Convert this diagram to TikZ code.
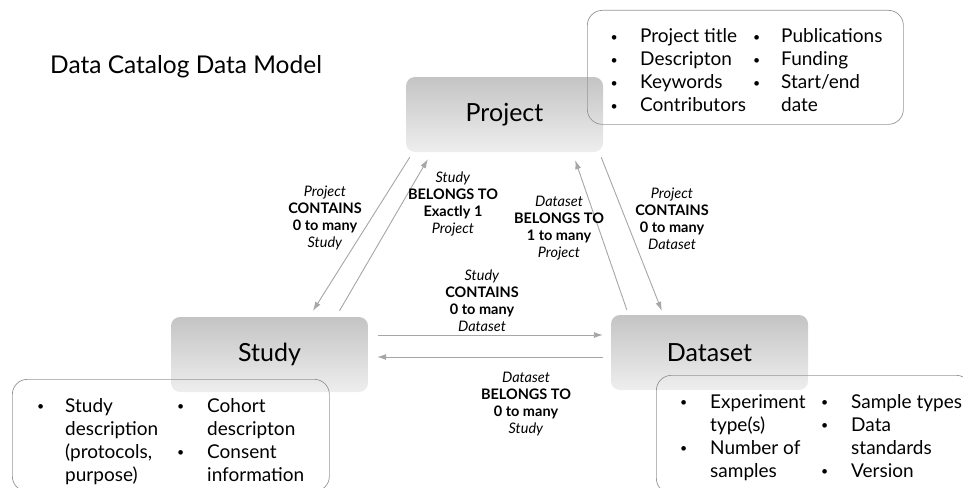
\documentclass[tikz,border=0pt]{standalone}
\usepackage{fontspec}
\setmainfont{Lato}
\usepackage{array}
\usepackage{graphicx}
\usetikzlibrary{arrows.meta}

\definecolor{boxtop}{RGB}{196,196,196}
\definecolor{boxbot}{RGB}{238,238,238}
\definecolor{linkgray}{RGB}{166,166,166}
\definecolor{framegray}{RGB}{150,150,150}

\tikzset{
  entity/.style={rectangle, rounded corners=9pt, top color=boxtop, bottom color=boxbot,
    minimum width=197pt, minimum height=75pt, inner sep=0pt,
    font=\fontsize{25}{30}\selectfont},
  infobox/.style={rectangle, rounded corners=15pt, draw=framegray, line width=0.7pt,
    anchor=north west, inner sep=0pt},
  infolist/.style={anchor=base west, inner sep=0pt, font=\fontsize{19}{23}\selectfont},
  link/.style={draw=linkgray, line width=0.9pt, -{Latex[length=9pt,width=6pt]}},
  rel/.style={align=center, inner sep=0pt, font=\fontsize{14.5}{17}\selectfont}
}

\newcommand{\bl}{\raisebox{0.12ex}{\scalebox{0.65}{\textbullet}}}

\begin{document}
\begin{tikzpicture}[x=1pt,y=-1pt]
\useasboundingbox (0,0) rectangle (963,487);

% title
\node[anchor=base west, inner sep=0pt, font=\fontsize{24.5}{29}\selectfont] (title) at (50,74) {Data Catalog Data Model};

% the three entities
\node[entity] (project) at (504.5,114.5) {Project};
\node[entity] (study) at (269.5,354.5) {Study};
\node[entity] (dataset) at (709.5,352.5) {Dataset};

% attribute boxes
\node[infobox, minimum width=316pt, minimum height=114pt] (projinfo) at (587,10) {};
\node[infolist] (projlist) at (610.5,43) {%
  \begin{tabular}[t]{@{}p{29.5pt}@{}p{113pt}@{}p{28pt}@{}l@{}}
  \bl & Project title & \bl & Publications\\
  \bl & Descripton & \bl & Funding\\
  \bl & Keywords & \bl & Start/end\\
  \bl & Contributors & & date
  \end{tabular}};

\node[infobox, minimum width=317pt, minimum height=112pt] (studyinfo) at (12,379) {};
\node[infolist] (studylist) at (37,412) {%
  \begin{tabular}[t]{@{}p{28pt}@{}p{112pt}@{}p{30pt}@{}l@{}}
  \bl & Study & \bl & Cohort\\
  & description & & descripton\\
  & (protocols, & \bl & Consent\\
  & purpose) & & information
  \end{tabular}};

\node[infobox, minimum width=315pt, minimum height=118pt] (datainfo) at (656,375) {};
\node[infolist] (datalist) at (680,408) {%
  \begin{tabular}[t]{@{}p{30pt}@{}p{111pt}@{}p{30pt}@{}l@{}}
  \bl & Experiment & \bl & Sample types\\
  & type(s) & \bl & Data\\
  \bl & Number of & & standards\\
  & samples & \bl & Version
  \end{tabular}};

% relationships
\draw[link] ([xshift=4pt,yshift=-5pt]project.south west) -- ([xshift=43.5pt,yshift=6pt]study.north);
\draw[link] ([xshift=70pt,yshift=6pt]study.north) -- ([xshift=22pt,yshift=-7pt]project.south west);
\draw[link] ([xshift=16pt,yshift=5pt]dataset.north west) -- ([xshift=-28pt,yshift=-8pt]project.south east);
\draw[link] ([xshift=-2pt,yshift=-5pt]project.south east) -- ([xshift=51pt,yshift=4pt]dataset.north west);
\draw[link] ([xshift=10pt,yshift=19.5pt]study.east) -- ([xshift=-8pt,yshift=17.5pt]dataset.west);
\draw[link] ([xshift=-8pt,yshift=-4.5pt]dataset.west) -- ([xshift=9pt,yshift=-2.5pt]study.east);

\node[rel] (projstudy) at (325,218) {\textit{Project}\\\textbf{CONTAINS}\\\textbf{0 to many}\\\textit{Study}};
\node[rel] (studyproj) at (453,203.5) {\textit{Study}\\\textbf{BELONGS TO}\\\textbf{Exactly 1}\\\textit{Project}};
\node[rel] (dataproj) at (559,228) {\textit{Dataset}\\\textbf{BELONGS TO}\\\textbf{1 to many}\\\textit{Project}};
\node[rel] (projdata) at (672,219) {\textit{Project}\\\textbf{CONTAINS}\\\textbf{0 to many}\\\textit{Dataset}};
\node[rel] (studydata) at (482,301) {\textit{Study}\\\textbf{CONTAINS}\\\textbf{0 to many}\\\textit{Dataset}};
\node[rel] (datastudy) at (526,404) {\textit{Dataset}\\\textbf{BELONGS TO}\\\textbf{0 to many}\\\textit{Study}};
\end{tikzpicture}
\end{document}
